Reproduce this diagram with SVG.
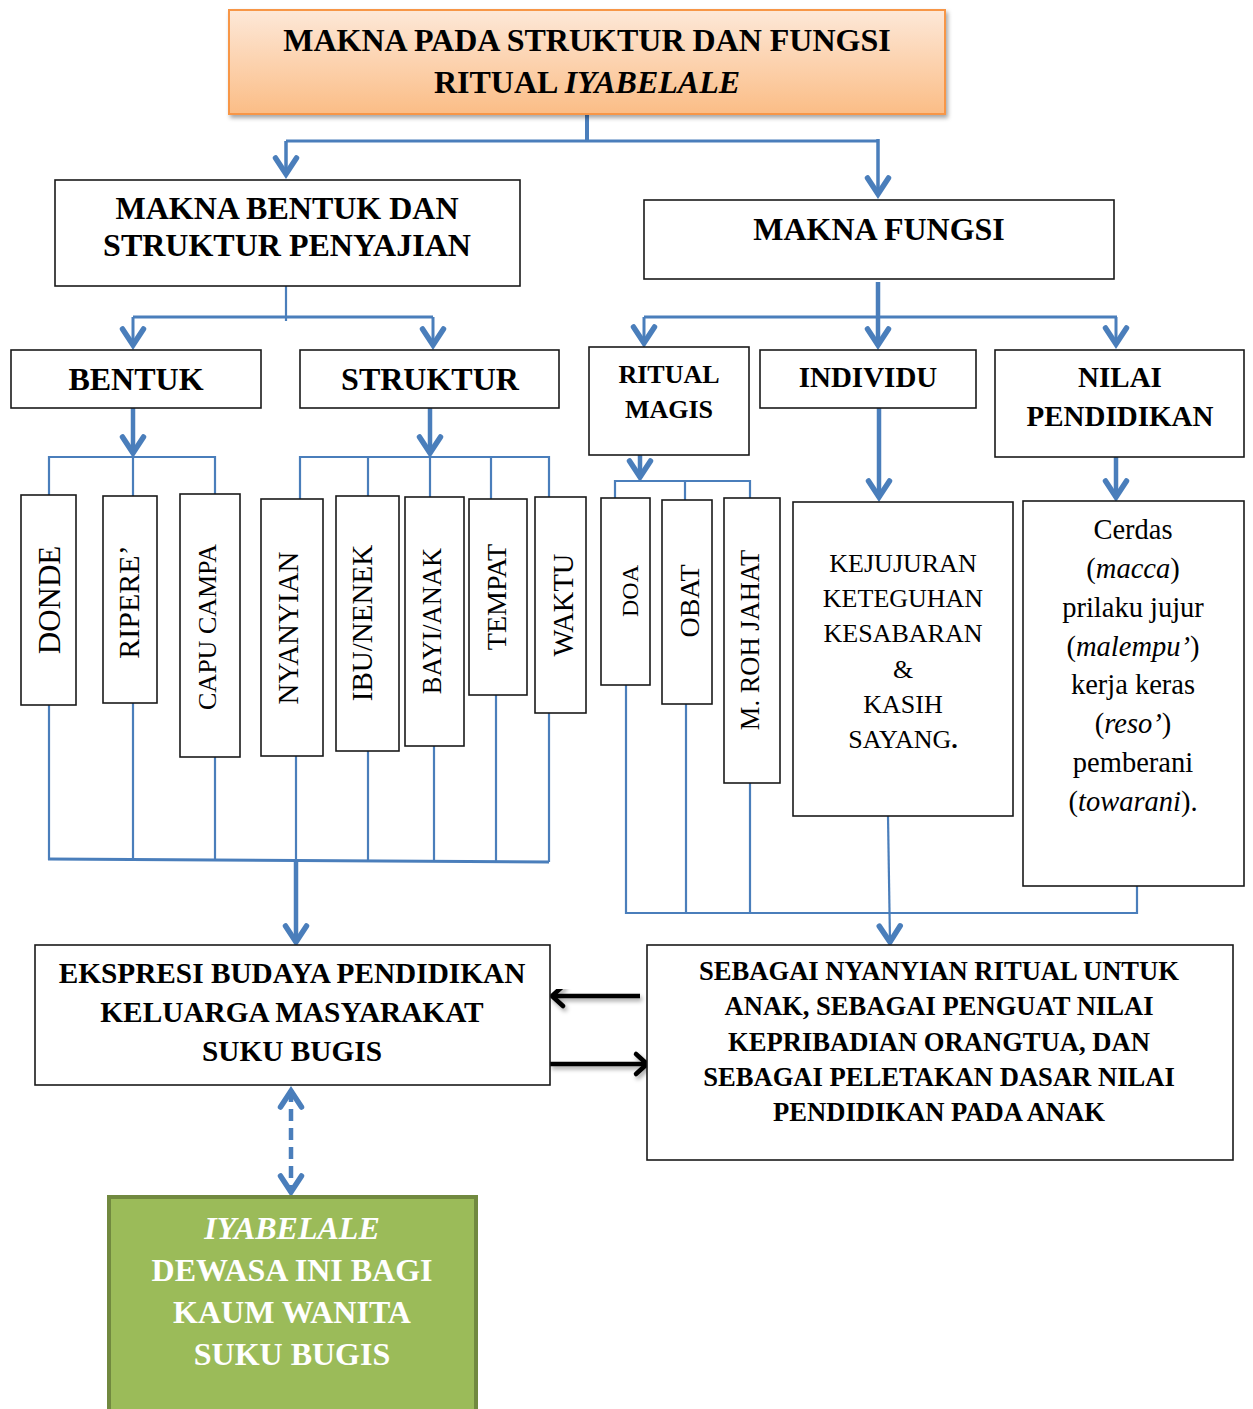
<svg xmlns="http://www.w3.org/2000/svg" width="1253" height="1409" viewBox="0 0 1253 1409">
<style>
text{font-family:"Liberation Serif","Times New Roman",serif;fill:#000;text-anchor:middle}
.b{font-weight:bold}
.box{fill:#fff;stroke:#1a1a1a;stroke-width:1.6}
.thin{stroke:#4a7ebb;stroke-width:2.2;fill:none}
.med{stroke:#4a7ebb;stroke-width:3;fill:none}
.thick{stroke:#4a7ebb;stroke-width:4.5;fill:none}
.blk{stroke:#000;stroke-width:4.5;fill:none}
.wt{fill:#fff}
</style>
<defs>
<linearGradient id="og" x1="0" y1="0" x2="0" y2="1">
<stop offset="0" stop-color="#fde8d8"/>
<stop offset="1" stop-color="#fbbd86"/>
</linearGradient>
<filter id="sh" x="-10%" y="-10%" width="130%" height="140%">
<feDropShadow dx="2" dy="3" stdDeviation="2" flood-color="#000" flood-opacity="0.35"/>
</filter>
<marker id="ba" markerUnits="userSpaceOnUse" viewBox="-24 -16 28 32" markerWidth="28" markerHeight="32" refX="0" refY="0" orient="auto-start-reverse">
<path d="M -17 -10.5 L -1 0 L -17 10.5" fill="none" stroke="#4a7ebb" stroke-width="5.5" stroke-linecap="round" stroke-linejoin="miter" stroke-miterlimit="10"/>
</marker>
<marker id="ka" markerUnits="userSpaceOnUse" viewBox="-20 -16 24 32" markerWidth="24" markerHeight="32" refX="0" refY="0" orient="auto">
<path d="M -11 -10 L 0 0 L -11 10" fill="none" stroke="#000" stroke-width="4.5" stroke-linecap="round" stroke-linejoin="round"/>
</marker>
</defs>
<rect width="1253" height="1409" fill="#fff"/>

<g id="connectors">
<line class="med" x1="587" y1="113" x2="587" y2="141" style="stroke-width:4"/>
<line class="med" x1="286" y1="141" x2="878" y2="141"/>
<line class="med" x1="286" y1="141" x2="286" y2="175" marker-end="url(#ba)" style="stroke-width:3.5"/>
<line class="med" x1="878" y1="139" x2="878" y2="195" marker-end="url(#ba)" style="stroke-width:3.5"/>

<line class="thin" x1="286" y1="286" x2="286" y2="321"/>
<line class="med" x1="133" y1="317" x2="433" y2="317"/>
<line class="med" x1="133" y1="317" x2="133" y2="346" marker-end="url(#ba)"/>
<line class="med" x1="433" y1="317" x2="433" y2="346" marker-end="url(#ba)"/>

<line class="thick" x1="878" y1="282" x2="878" y2="346" marker-end="url(#ba)"/>
<line class="med" x1="644" y1="317" x2="1117" y2="317"/>
<line class="med" x1="644" y1="317" x2="644" y2="344" marker-end="url(#ba)"/>
<line class="med" x1="1116" y1="317" x2="1116" y2="345" marker-end="url(#ba)"/>

<line class="thick" x1="133" y1="408" x2="133" y2="454" marker-end="url(#ba)"/>
<polyline class="thin" points="49,495 49,457 215,457 215,494"/>
<line class="thin" x1="133" y1="457" x2="133" y2="496"/>
<line class="thick" x1="430" y1="408" x2="430" y2="454" marker-end="url(#ba)"/>
<polyline class="thin" points="300,499 300,457 549,457 549,497"/>
<line class="thin" x1="368" y1="457" x2="368" y2="496"/>
<line class="thin" x1="430" y1="457" x2="430" y2="497"/>
<line class="thin" x1="491" y1="457" x2="491" y2="499"/>

<line class="thick" x1="640" y1="455" x2="640" y2="478" marker-end="url(#ba)"/>
<polyline class="thin" points="615,498 615,481 750,481 750,498"/>
<line class="thin" x1="685" y1="481" x2="685" y2="500"/>
<line class="thick" x1="879" y1="408" x2="879" y2="498" marker-end="url(#ba)"/>
<line class="thick" x1="1116" y1="457" x2="1116" y2="498" marker-end="url(#ba)"/>

<line class="thin" x1="49" y1="705" x2="49" y2="860"/>
<line class="thin" x1="133" y1="703" x2="133" y2="860"/>
<line class="thin" x1="215" y1="757" x2="215" y2="860"/>
<line class="thin" x1="296" y1="756" x2="296" y2="861"/>
<line class="thin" x1="368" y1="751" x2="368" y2="861"/>
<line class="thin" x1="434" y1="746" x2="434" y2="861"/>
<line class="thin" x1="496" y1="695" x2="496" y2="862"/>
<line class="thin" x1="549" y1="713" x2="549" y2="862"/>
<line class="med" x1="48" y1="859" x2="549" y2="862"/>
<line class="thick" x1="296" y1="860" x2="296" y2="943" marker-end="url(#ba)"/>

<line class="thin" x1="626" y1="685" x2="626" y2="914"/>
<line class="thin" x1="686" y1="704" x2="686" y2="914"/>
<line class="thin" x1="750" y1="783" x2="750" y2="914"/>
<polyline class="thin" points="626,913 1137,913 1137,886"/>
<line class="thin" x1="888" y1="816" x2="890" y2="943" marker-end="url(#ba)"/>

<g filter="url(#sh)">
<line class="blk" x1="640" y1="996" x2="552" y2="996" marker-end="url(#ka)"/>
<line class="blk" x1="550" y1="1064" x2="647" y2="1064" marker-end="url(#ka)"/>
</g>
<line x1="291" y1="1090" x2="291" y2="1193" stroke="#4a7ebb" stroke-width="4.5" stroke-dasharray="12 7" marker-start="url(#ba)" marker-end="url(#ba)"/>
</g>

<g id="n-title">
<rect x="229" y="10" width="716" height="104" fill="url(#og)" stroke="#f79646" stroke-width="2" filter="url(#sh)"/>
<text class="b" x="587" y="51" font-size="32">MAKNA PADA STRUKTUR DAN FUNGSI</text>
<text class="b" x="587" y="93" font-size="32">RITUAL <tspan font-style="italic">IYABELALE</tspan></text>
</g>

<g id="n-bentuk-struktur">
<rect class="box" x="55" y="180" width="465" height="106"/>
<text class="b" x="287" y="219" font-size="32">MAKNA BENTUK DAN</text>
<text class="b" x="287" y="256" font-size="32">STRUKTUR PENYAJIAN</text>
</g>
<g id="n-fungsi">
<rect class="box" x="644" y="200" width="470" height="79"/>
<text class="b" x="879" y="240" font-size="32">MAKNA FUNGSI</text>
</g>

<g id="n-bentuk">
<rect class="box" x="11" y="350" width="250" height="58"/>
<text class="b" x="136" y="390" font-size="32">BENTUK</text>
</g>
<g id="n-struktur">
<rect class="box" x="300" y="350" width="259" height="58"/>
<text class="b" x="430" y="390" font-size="32">STRUKTUR</text>
</g>
<g id="n-ritual">
<rect class="box" x="589" y="347" width="160" height="108"/>
<text class="b" x="669" y="383" font-size="26">RITUAL</text>
<text class="b" x="669" y="418" font-size="26">MAGIS</text>
</g>
<g id="n-individu">
<rect class="box" x="760" y="350" width="216" height="58"/>
<text class="b" x="868" y="387" font-size="29">INDIVIDU</text>
</g>
<g id="n-nilai">
<rect class="box" x="995" y="350" width="249" height="107"/>
<text class="b" x="1120" y="387" font-size="29">NILAI</text>
<text class="b" x="1120" y="426" font-size="29">PENDIDIKAN</text>
</g>

<g id="n-donde">
<rect class="box" x="21" y="495" width="55" height="210"/>
<text font-size="31" transform="translate(60,600) rotate(-90)">DONDE</text>
</g>
<g id="n-ripere">
<rect class="box" x="103" y="496" width="54" height="207"/>
<text font-size="30" transform="translate(139,602) rotate(-90)">RIPERE’</text>
</g>
<g id="n-capu">
<rect class="box" x="180" y="494" width="60" height="263"/>
<text font-size="26" transform="translate(216,627) rotate(-90)">CAPU CAMPA</text>
</g>
<g id="n-nyanyian">
<rect class="box" x="261" y="499" width="62" height="257"/>
<text font-size="29" transform="translate(298,628) rotate(-90)">NYANYIAN</text>
</g>
<g id="n-ibu">
<rect class="box" x="336" y="496" width="63" height="255"/>
<text font-size="29" transform="translate(372,623) rotate(-90)">IBU/NENEK</text>
</g>
<g id="n-bayi">
<rect class="box" x="405" y="497" width="59" height="249"/>
<text font-size="26.5" transform="translate(441,621) rotate(-90)">BAYI/ANAK</text>
</g>
<g id="n-tempat">
<rect class="box" x="469" y="499" width="58" height="196"/>
<text font-size="28" transform="translate(506,597) rotate(-90)">TEMPAT</text>
</g>
<g id="n-waktu">
<rect class="box" x="535" y="497" width="51" height="216"/>
<text font-size="28.5" transform="translate(573,605) rotate(-90)">WAKTU</text>
</g>
<g id="n-doa">
<rect class="box" x="601" y="498" width="49" height="187"/>
<text font-size="24" transform="translate(638,591) rotate(-90)">DOA</text>
</g>
<g id="n-obat">
<rect class="box" x="662" y="500" width="50" height="204"/>
<text font-size="28" transform="translate(699,601) rotate(-90)">OBAT</text>
</g>
<g id="n-roh">
<rect class="box" x="724" y="498" width="56" height="285"/>
<text font-size="26.5" transform="translate(759,640) rotate(-90)">M. ROH JAHAT</text>
</g>

<g id="n-kejujuran">
<rect class="box" x="793" y="502" width="220" height="314"/>
<text font-size="26" x="903" y="572">KEJUJURAN</text>
<text font-size="26" x="903" y="607">KETEGUHAN</text>
<text font-size="26" x="903" y="642">KESABARAN</text>
<text font-size="26" x="903" y="678">&amp;</text>
<text font-size="26" x="903" y="713">KASIH</text>
<text font-size="26" x="903" y="748">SAYANG<tspan class="b">.</tspan></text>
</g>
<g id="n-cerdas">
<rect class="box" x="1023" y="501" width="221" height="385"/>
<text font-size="28.5" x="1133" y="539">Cerdas</text>
<text font-size="28.5" x="1133" y="578">(<tspan font-style="italic">macca</tspan>)</text>
<text font-size="28.5" x="1133" y="617">prilaku jujur</text>
<text font-size="28.5" x="1133" y="656">(<tspan font-style="italic">malempu’</tspan>)</text>
<text font-size="28.5" x="1133" y="694">kerja keras</text>
<text font-size="28.5" x="1133" y="733">(<tspan font-style="italic">reso’</tspan>)</text>
<text font-size="28.5" x="1133" y="772">pemberani</text>
<text font-size="28.5" x="1133" y="811">(<tspan font-style="italic">towarani</tspan>).</text>
</g>

<g id="n-ekspresi">
<rect class="box" x="35" y="945" width="515" height="140"/>
<text class="b" x="292" y="983" font-size="29.3">EKSPRESI BUDAYA PENDIDIKAN</text>
<text class="b" x="292" y="1022" font-size="29.3">KELUARGA MASYARAKAT</text>
<text class="b" x="292" y="1061" font-size="29.3">SUKU BUGIS</text>
</g>
<g id="n-sebagai">
<rect class="box" x="647" y="945" width="586" height="215"/>
<text class="b" x="939" y="980" font-size="26.6">SEBAGAI NYANYIAN RITUAL UNTUK</text>
<text class="b" x="939" y="1015" font-size="26.6">ANAK, SEBAGAI PENGUAT NILAI</text>
<text class="b" x="939" y="1051" font-size="26.6">KEPRIBADIAN ORANGTUA, DAN</text>
<text class="b" x="939" y="1086" font-size="26.6">SEBAGAI PELETAKAN DASAR NILAI</text>
<text class="b" x="939" y="1121" font-size="26.6">PENDIDIKAN PADA ANAK</text>
</g>
<g id="n-iyabelale">
<rect x="109" y="1197" width="367" height="230" fill="#9bbb59" stroke="#71893f" stroke-width="4"/>
<text class="b wt" x="292" y="1239" font-size="32" font-style="italic">IYABELALE</text>
<text class="b wt" x="292" y="1281" font-size="32">DEWASA INI BAGI</text>
<text class="b wt" x="292" y="1323" font-size="32">KAUM WANITA</text>
<text class="b wt" x="292" y="1365" font-size="32">SUKU BUGIS</text>
</g>
</svg>
